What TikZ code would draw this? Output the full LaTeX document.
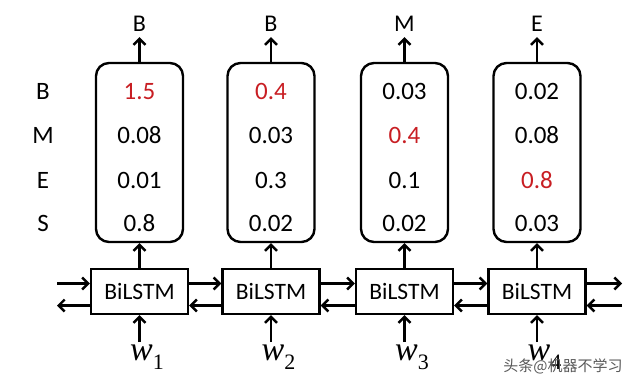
\documentclass[tikz,border=0pt]{standalone}
\usepackage{fontspec}
\setmainfont{Carlito}
\newfontfamily\wfont{Liberation Serif}
\newfontfamily\cjk{Noto Sans CJK SC}
\usetikzlibrary{arrows.meta}
\definecolor{hired}{RGB}{200,30,35}
\tikzset{
  conn/.style={line width=2.4pt,-{Straight Barb[length=6pt,width=12pt,line width=2.4pt]}},
  scorebox/.style={draw,line width=2.4pt,rounded corners=13pt,minimum width=87pt,minimum height=179pt,inner sep=0pt},
  lstmbox/.style={draw,line width=2.4pt,minimum width=97pt,minimum height=45pt,inner sep=0pt,font=\fontsize{23.5}{26}\selectfont},
  val/.style={inner sep=0pt,text height=16pt,text depth=0pt,font=\fontsize{25}{28}\selectfont},
  hival/.style={val,text=hired},
  outlab/.style={inner sep=0pt,text height=16pt,text depth=0pt,font=\fontsize{24}{28}\selectfont},
  wlab/.style={inner sep=0pt,font=\wfont\itshape\fontsize{34}{36}\selectfont}
}
\begin{document}
\begin{tikzpicture}[x=1pt,y=-1pt]
\useasboundingbox (0,0) rectangle (640,385);
% left tag labels
\node[val] (tB) at (43,92) {B};
\node[val] (tM) at (43,135) {M};
\node[val] (tE) at (43,180) {E};
\node[val] (tS) at (43,223) {S};
% score boxes
\node[scorebox] (sc1) at (139.5,152.5) {};
\node[scorebox] (sc2) at (271,152.5) {};
\node[scorebox] (sc3) at (404.5,152.5) {};
\node[scorebox] (sc4) at (537,152.5) {};
% values
\node[hival] (v11) at (139.5,92) {1.5};
\node[val] (v12) at (139.5,135) {0.08};
\node[val] (v13) at (139.5,180) {0.01};
\node[val] (v14) at (139.5,223) {0.8};
\node[hival] (v21) at (271,92) {0.4};
\node[val] (v22) at (271,135) {0.03};
\node[val] (v23) at (271,180) {0.3};
\node[val] (v24) at (271,223) {0.02};
\node[val] (v31) at (404.5,92) {0.03};
\node[hival] (v32) at (404.5,135) {0.4};
\node[val] (v33) at (404.5,180) {0.1};
\node[val] (v34) at (404.5,223) {0.02};
\node[val] (v41) at (537,92) {0.02};
\node[val] (v42) at (537,135) {0.08};
\node[hival] (v43) at (537,180) {0.8};
\node[val] (v44) at (537,223) {0.03};
% output labels
\node[outlab] (o1) at (139.5,24) {B};
\node[outlab] (o2) at (271,24) {B};
\node[outlab] (o3) at (404.5,24) {M};
\node[outlab] (o4) at (537,24) {E};
% BiLSTM boxes
\node[lstmbox] (b1) at (139.5,291.5) {BiLSTM};
\node[lstmbox] (b2) at (271,291.5) {BiLSTM};
\node[lstmbox] (b3) at (404.5,291.5) {BiLSTM};
\node[lstmbox] (b4) at (537,291.5) {BiLSTM};
% inputs
\node[wlab,anchor=base west] (w1) at (130,360) {w\raisebox{-9pt}{\upshape\fontsize{22}{24}\selectfont 1}};
\node[wlab,anchor=base west] (w2) at (261.5,360) {w\raisebox{-9pt}{\upshape\fontsize{22}{24}\selectfont 2}};
\node[wlab,anchor=base west] (w3) at (395,360) {w\raisebox{-9pt}{\upshape\fontsize{22}{24}\selectfont 3}};
\node[wlab,anchor=base west] (w4) at (527.5,360) {w\raisebox{-9pt}{\upshape\fontsize{22}{24}\selectfont 4}};
% vertical connectors
\foreach \i in {1,2,3,4}{
  \draw[conn] (b\i.north) -- (sc\i.south);
  \draw[conn,shorten >=5pt] (sc\i.north) -- (o\i.south);
  \draw[conn] (w\i.north -| b\i) ++(0,-2) -- (b\i.south);
}
% horizontal connectors
\coordinate (inF) at (57,283.5);
\coordinate (outB) at (57,305.5);
\coordinate (outF) at (622,283.5);
\coordinate (inB) at (622,305.5);
\draw[conn] (inF) -- (inF -| b1.west);
\draw[conn] (outB -| b1.west) -- (outB);
\draw[conn] (inF -| b1.east) -- (inF -| b2.west);
\draw[conn] (outB -| b2.west) -- (outB -| b1.east);
\draw[conn] (inF -| b2.east) -- (inF -| b3.west);
\draw[conn] (outB -| b3.west) -- (outB -| b2.east);
\draw[conn] (inF -| b3.east) -- (inF -| b4.west);
\draw[conn] (outB -| b4.west) -- (outB -| b3.east);
\draw[conn] (inF -| b4.east) -- (outF);
\draw[conn] (inB) -- (outB -| b4.east);
% watermark
\node[inner sep=0pt,text=black!65,font=\cjk\fontsize{15}{16}\selectfont] (wm) at (563,366) {头条@机器不学习};
\end{tikzpicture}
\end{document}
